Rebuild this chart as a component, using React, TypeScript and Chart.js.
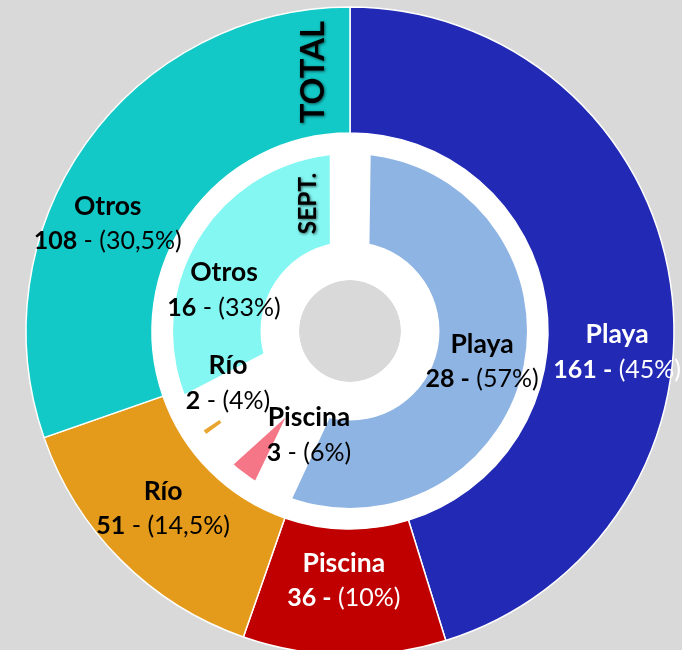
import React, { useEffect, useRef } from "react";
import { Chart, registerables } from "chart.js";

Chart.register(...registerables);

// ---------- data ----------
const categories = ["Playa", "Piscina", "Río", "Otros"];
const totalValues = [161, 36, 51, 108];
const totalPct = ["45%", "10%", "14,5%", "30,5%"];
const septValues = [28, 3, 2, 16];
const septPct = ["57%", "6%", "4%", "33%"];
const totalTitle = "TOTAL";
const septTitle = "SEPT.";

// ---------- style ----------
const totalColors = ["#2129B5", "#C00000", "#E49A1A", "#13C9C7"];
const septColors = ["#8EB4E3", "#F47687", "#E9A52E", "#84F7F3"];
const totalLabelColors = ["#FFFFFF", "#FFFFFF", "#000000", "#000000"];
const septLabelColors = ["#000000", "#000000", "#000000", "#000000"];
const totalBoldDash = [true, true, false, false];
const septBoldDash = [true, false, false, false];
// label placement: [angle shift from slice bisector (deg), distance from centre (px)]
const totalLabelPlace = [[13.1, 268], [0.4, 250], [1.4, 258], [-11.5, 265]];
const septLabelPlace = [[0.3, 135.6], [-15.2, 111.8], [11.8, 132.6], [-13.2, 132.5]];
// explosion of inner slices along their bisector (px)
const septExplode = [18.6, 107.8, 88, 23.4];
const FONT = "Lato, 'Open Sans', sans-serif";
const TRANSPARENT = "rgba(0,0,0,0)";

type Ring = { o: number; n: number };

// weights / radius / cutout for each ring so that ring i spans [n, o]
function solveRings(rings: Ring[]) {
  const N = rings.length;
  const w: number[] = new Array(N).fill(0);
  w[N - 1] = 1;
  let after = 1;
  for (let i = N - 2; i >= 0; i--) {
    const t = 1 - rings[i].n / rings[i].o;
    w[i] = Math.ceil(((after * t) / (1 - t)) * 1.5) + 1;
    after += w[i];
  }
  const W = Math.pow(2, Math.ceil(Math.log2(after)));
  w[0] += W - after;
  const res: { weight: number; radius: number; cutout: string }[] = [];
  let O = 0;
  for (let i = 0; i < N; i++) {
    const { o, n } = rings[i];
    const L = (o - n) / w[i];
    const R = o + O * L;
    const c = i === N - 1 ? 0 : 1 - (W * L) / R;
    res.push({ weight: w[i], radius: R, cutout: `${c * 100}%` });
    O += w[i];
  }
  return res;
}

const only = (k: number, arr: any[], other: any) => arr.map((v, i) => (i === k ? v : other));
const sum = (a: number[]) => a.reduce((s, v) => s + v, 0);

const labelPlugin = {
  id: "sliceLabels",
  afterDatasetsDraw(chart: any) {
    const ctx: CanvasRenderingContext2D = chart.ctx;
    const outerArcs = chart.getDatasetMeta(0).data;
    const innerArcs = chart.getDatasetMeta(4).data;
    const cx = outerArcs[0].x;
    const cy = outerArcs[0].y;

    const drawBlock = (
      arc: any, place: number[], name: string, value: number, pct: string,
      color: string, boldDash: boolean
    ) => {
      const mid = (arc.startAngle + arc.endAngle) / 2 + (place[0] * Math.PI) / 180;
      const x = cx + place[1] * Math.cos(mid);
      const y = cy + place[1] * Math.sin(mid);
      ctx.save();
      ctx.fillStyle = color;
      ctx.textBaseline = "middle";
      ctx.textAlign = "left";
      const bold = `bold 25px ${FONT}`;
      const reg = `25px ${FONT}`;
      ctx.font = `bold 26.5px ${FONT}`;
      const w1 = ctx.measureText(name).width;
      ctx.fillText(name, x - w1 / 2, y - 17.5);
      const parts: [string, string][] = boldDash
        ? [[`${value} -`, bold], [` (${pct})`, reg]]
        : [[`${value}`, bold], [` - (${pct})`, reg]];
      let total = 0;
      const widths = parts.map(([t, f]) => {
        ctx.font = f;
        const m = ctx.measureText(t).width;
        total += m;
        return m;
      });
      let xx = x - total / 2;
      parts.forEach(([t, f], i) => {
        ctx.font = f;
        ctx.fillText(t, xx, y + 17.5);
        xx += widths[i];
      });
      ctx.restore();
    };

    categories.forEach((name, i) => {
      drawBlock(outerArcs[i], totalLabelPlace[i], name, totalValues[i], totalPct[i],
        totalLabelColors[i], totalBoldDash[i]);
      drawBlock(innerArcs[i], septLabelPlace[i], name, septValues[i], septPct[i],
        septLabelColors[i], septBoldDash[i]);
    });

    const drawTitle = (text: string, x: number, y: number, size: number) => {
      ctx.save();
      ctx.translate(x, y);
      ctx.rotate(-Math.PI / 2);
      ctx.font = `bold ${size}px ${FONT}`;
      ctx.textAlign = "center";
      ctx.textBaseline = "middle";
      ctx.shadowColor = "rgba(0,0,0,0.6)";
      ctx.shadowBlur = 3;
      ctx.shadowOffsetX = 1;
      ctx.shadowOffsetY = 1;
      ctx.fillStyle = "#000000";
      ctx.fillText(text, 0, 0);
      ctx.restore();
    };
    drawTitle(totalTitle, cx - 36.5, cy - 259, 33);
    drawTitle(septTitle, cx - 41.5, cy - 127.5, 24.5);
  },
};

export default function App() {
  const ref = useRef<HTMLCanvasElement>(null);

  useEffect(() => {
    const canvas = ref.current!;
    const septTotal = sum(septValues);
    const rings: any[] = [
      { // outer ring: TOTAL
        o: 324, n: 198, order: 0, data: totalValues, bg: totalColors,
        borderWidth: 1.5,
      },
      { o: 199, n: 177, order: 1, data: [septTotal], bg: ["#FFFFFF"] }, // white band
      { o: 89.5, n: 51, order: 1, data: [septTotal], bg: ["#FFFFFF"] }, // white hole
      { o: 200, n: 51, order: 9, data: [septTotal], bg: ["#FFFFFF"] }, // white base
      { // Playa (SEPT.)
        o: 190, n: 39.5, order: 5, data: septValues,
        bg: only(0, septColors, TRANSPARENT), offset: only(0, septExplode.map(v => v * 4), 0),
      },
      { // Otros (SEPT.)
        o: 210, n: 57.35, order: 5, data: septValues,
        bg: only(3, septColors, TRANSPARENT), offset: only(3, septExplode.map(v => v * 4), 0),
      },
      { // Río (SEPT.)
        o: 34.32, n: 4.32, order: 5, data: septValues,
        bg: only(2, septColors, TRANSPARENT), offset: only(2, septExplode.map(v => v * 4), 0),
      },
      { // Piscina (SEPT.) - pie wedge
        o: 54.4375, n: 0, order: 5, data: septValues,
        bg: only(1, septColors, TRANSPARENT), offset: only(1, septExplode.map(v => v * 4), 0),
        spacing: -43.58,
      },
    ];
    const solved = solveRings(rings.map((r) => ({ o: r.o, n: r.n })));
    const datasets = rings.map((r, i) => ({
      data: r.data,
      backgroundColor: r.bg,
      borderColor: "#FFFFFF",
      borderWidth: r.borderWidth ?? 0,
      offset: r.offset ?? 0,
      spacing: r.spacing ?? 0,
      order: r.order,
      weight: solved[i].weight,
      radius: solved[i].radius,
      cutout: solved[i].cutout,
      hoverOffset: 0,
    }));

    const chart = new Chart(canvas, {
      type: "doughnut",
      data: { labels: categories, datasets: datasets as any },
      options: {
        responsive: false,
        animation: false,
        devicePixelRatio: 1,
        events: [],
        layout: { padding: { left: 18, top: 12, right: 0, bottom: 0 } },
        plugins: { legend: { display: false }, tooltip: { enabled: false } },
      } as any,
      plugins: [labelPlugin],
    });
    return () => chart.destroy();
  }, []);

  return (
    <div
      style={{
        position: "fixed",
        left: 0,
        top: 0,
        width: 682,
        height: 650,
        background: "#D9D9D9",
        overflow: "hidden",
      }}
    >
      <canvas ref={ref} width={682} height={650} style={{ display: "block" }} />
    </div>
  );
}
